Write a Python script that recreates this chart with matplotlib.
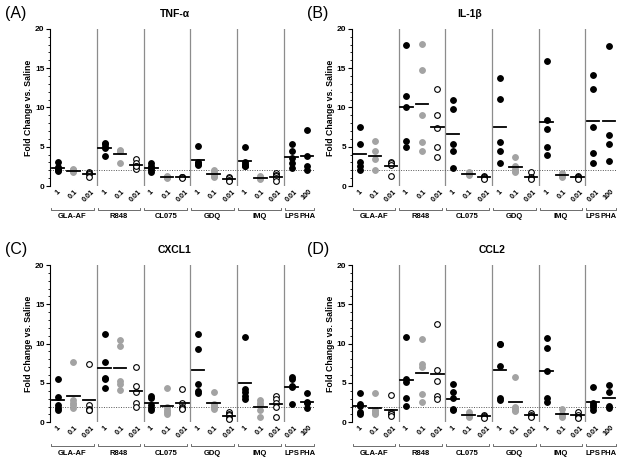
import numpy as np
import matplotlib.pyplot as plt
from matplotlib.transforms import blended_transform_factory

plt.rcParams['font.family'] = ['Liberation Sans', 'DejaVu Sans']

# Grupos y dosis
groups = ['GLA-AF', 'R848', 'CL075', 'GDQ', 'IMQ']
doses = ['1', '0.1', '0.01']
controls = ['LPS', 'PHA']
control_doses = ['0.01', '100']

# Valores leídos (fold change vs. saline), orden: grupo x dosis, luego LPS, PHA
tnf = [
    [3.1, 2.4, 2.2, 2.0, 1.9], [2.1, 2.0, 1.9, 2.0, 1.8], [1.8, 1.6, 1.5, 1.1],
    [5.5, 5.3, 5.0, 4.8, 3.8], [4.5, 4.4, 4.6, 2.9], [3.4, 2.9, 2.5, 2.1, 2.5],
    [2.9, 2.6, 2.3, 2.0, 1.8], [1.3, 1.2, 1.1, 1.1, 1.0], [1.2, 1.1, 1.1, 1.0],
    [5.1, 3.1, 2.9, 2.8, 2.7], [2.0, 1.8, 1.5, 1.3, 1.1], [1.2, 1.0, 0.8, 0.6],
    [4.9, 3.0, 2.8, 2.6, 2.5], [1.3, 1.1, 1.0, 0.9], [1.6, 1.4, 1.3, 1.0, 0.6],
    [5.3, 4.4, 3.5, 2.9, 2.3], [7.1, 3.8, 2.6, 2.0],
]
il1b = [
    [7.5, 5.4, 3.1, 2.6, 2.0], [5.7, 4.4, 3.4, 2.0], [3.1, 2.9, 2.7, 1.3],
    [17.9, 11.5, 10.0, 5.7, 4.9], [18.1, 14.8, 9.0, 5.6, 4.5], [12.4, 9.0, 7.35, 5.0, 3.7],
    [10.9, 9.8, 5.35, 4.45, 2.3], [1.8, 1.6, 1.5, 1.4], [1.3, 1.2, 1.1, 1.0, 0.9],
    [13.8, 11.1, 5.6, 4.4, 2.9], [3.7, 2.6, 2.2, 1.9, 1.8], [1.8, 1.1, 1.0, 0.9],
    [15.9, 8.4, 7.2, 5.0, 4.0], [1.6, 1.4, 1.3, 1.2], [1.3, 1.2, 1.1, 1.0, 0.9],
    [14.1, 12.3, 7.55, 4.2, 2.9], [17.8, 6.5, 5.4, 3.2],
]
cxcl1 = [
    [5.5, 3.2, 2.2, 1.8, 1.6], [7.7, 2.8, 2.5, 2.2, 1.8], [7.4, 2.2, 1.7, 1.6, 1.5],
    [11.2, 7.6, 5.6, 5.5, 4.4], [10.5, 9.7, 5.3, 4.9, 4.1], [7.0, 4.6, 3.8, 2.5, 1.9],
    [3.3, 3.1, 2.2, 1.8, 1.6], [4.4, 2.0, 1.6, 1.3, 1.1], [4.2, 2.4, 2.0, 1.8, 1.7],
    [11.2, 9.3, 4.8, 4.0, 3.7], [3.8, 2.3, 2.2, 2.0, 1.7], [1.35, 1.0, 0.9, 0.6, 0.4],
    [10.8, 4.2, 3.9, 3.3, 3.0], [2.8, 2.5, 2.2, 1.6, 0.7], [3.35, 3.0, 2.4, 2.0, 0.7],
    [5.7, 5.5, 4.6, 4.5, 2.3], [3.7, 2.6, 2.4, 1.8],
]
ccl2 = [
    [3.7, 2.3, 2.1, 1.35, 1.05], [3.7, 1.6, 1.4, 1.2, 1.0], [3.5, 1.3, 1.1, 1.0, 0.8],
    [10.8, 5.5, 5.1, 3.1, 2.1], [10.6, 7.4, 7.0, 3.55, 2.6], [12.5, 6.7, 5.25, 3.4, 2.9],
    [4.8, 3.9, 3.05, 1.65, 1.5], [1.3, 1.0, 0.8, 0.7], [0.9, 0.8, 0.7, 0.6],
    [10.0, 10.0, 7.15, 3.05, 2.85], [5.8, 2.0, 1.8, 1.6, 1.4], [1.15, 0.95, 0.8, 0.7],
    [10.7, 9.5, 6.55, 3.05, 2.6], [1.7, 1.0, 0.8, 0.7], [1.35, 0.9, 0.7, 0.5],
    [4.5, 2.5, 2.2, 2.0, 1.55], [4.7, 3.8, 2.1, 1.8],
]

panels = [
    ('(A)', 'TNF-α', tnf, [0.080, 0.600, 0.423, 0.338], 0.47),
    ('(B)', 'IL-1β', il1b, [0.562, 0.600, 0.423, 0.338], 0.445),
    ('(C)', 'CXCL1', cxcl1, [0.080, 0.092, 0.423, 0.338], 0.47),
    ('(D)', 'CCL2', ccl2, [0.562, 0.092, 0.423, 0.338], 0.53),
]

# estilos por dosis: 1 -> negro, 0.1 -> gris, 0.01 -> abierto
styles = [
    dict(mfc='black', mec='black'),
    dict(mfc='#a3a3a3', mec='#a3a3a3'),
    dict(mfc='white', mec='black'),
]

# posiciones en x
pos = []
labels = []
for g in range(len(groups)):
    for d in range(len(doses)):
        pos.append(3 * g + 0.5 + d)
        labels.append(doses[d])
for c in range(len(controls)):
    pos.append(15.5 + c)
    labels.append(control_doses[c])

fig = plt.figure(figsize=(6.26, 4.65), dpi=100)

for letter, title, data, rect, tx in panels:
    ax = fig.add_axes(rect)
    for i, vals in enumerate(data):
        st = styles[i % 3] if i < 15 else styles[0]
        ax.plot([pos[i]] * len(vals), vals, 'o', ms=4.1, mew=0.8,
                mfc=st['mfc'], mec=st['mec'], zorder=3, clip_on=False)
        m = np.mean(vals)
        ax.plot([pos[i] - 0.4, pos[i] + 0.4], [m, m], color='black', lw=1.3, zorder=4)

    for xs in [3, 6, 9, 12, 15]:
        ax.axvline(xs, color='#8c8c8c', lw=0.9, zorder=1)
    ax.axhline(2, color='#555555', lw=0.7, ls=(0, (1, 1.5)), zorder=2)

    ax.set_xlim(0, 17)
    ax.set_ylim(0, 20)
    ax.set_yticks([0, 5, 10, 15, 20])
    ax.set_yticks(np.arange(0, 21, 1), minor=True)
    ax.tick_params(axis='y', which='major', length=3, width=0.8, labelsize=6, pad=1)
    ax.tick_params(axis='y', which='minor', length=1.8, width=0.6)
    for t in ax.get_yticklabels():
        t.set_fontweight('bold')
    ax.set_xticks(pos)
    ax.set_xticklabels(labels, rotation=45, ha='center', va='top',
                       fontsize=5.2, fontweight='bold')
    ax.tick_params(axis='x', length=0, pad=1.5)
    for s in ['top', 'right', 'bottom']:
        ax.spines[s].set_visible(False)
    ax.spines['left'].set_linewidth(0.8)

    ax.set_ylabel('Fold Change vs. Saline', fontsize=6.3, fontweight='bold')
    ax.yaxis.set_label_coords(-0.065, 0.5)

    # corchetes de grupos
    trans = blended_transform_factory(ax.transData, ax.transAxes)
    brackets = [(3 * g + 0.05, 3 * g + 2.8, groups[g]) for g in range(len(groups))]
    for x0, x1, name in brackets:
        ax.plot([x0, x0, x1, x1], [-0.138, -0.153, -0.153, -0.138], color='#555555',
                lw=0.6, transform=trans, clip_on=False)
        ax.text((x0 + x1) / 2, -0.197, name, transform=trans, ha='center', va='center',
                fontsize=5.5, fontweight='bold')
    ax.plot([15.05, 15.05, 16.95, 16.95], [-0.138, -0.153, -0.153, -0.138], color='#555555',
            lw=0.6, transform=trans, clip_on=False)
    for c in range(len(controls)):
        ax.text(15.5 + c, -0.197, controls[c], transform=trans, ha='center', va='center',
                fontsize=5.5, fontweight='bold')

    ax.text(tx, 1.095, title, transform=ax.transAxes, ha='center', va='center',
            fontsize=7.5, fontweight='bold')
    ax.text(rect[0] - 0.072, rect[1] + rect[3] + 0.033, letter, transform=fig.transFigure,
            ha='left', va='center', fontsize=11.5)

fig.savefig('out.png', dpi=100)
